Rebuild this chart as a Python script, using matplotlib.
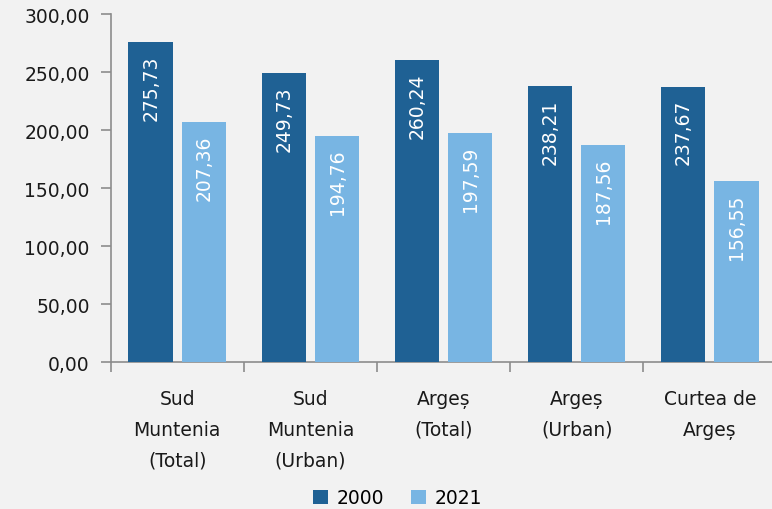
import matplotlib
matplotlib.use("Agg")
import matplotlib.pyplot as plt
import numpy as np

categories = ["Sud\nMuntenia\n(Total)", "Sud\nMuntenia\n(Urban)", "Argeș\n(Total)", "Argeș\n(Urban)", "Curtea de\nArgeș"]
series_names = ["2000", "2021"]
values_2000 = [275.73, 249.73, 260.24, 238.21, 237.67]
values_2021 = [207.36, 194.76, 197.59, 187.56, 156.55]
yticks = [0, 50, 100, 150, 200, 250, 300]

c_dark = "#1F6194"
c_light = "#78B5E3"
bg = "#F2F2F2"
axis_col = "#8C8C8C"

plt.rcParams['font.family'] = ['DejaVu Sans']

fig = plt.figure(figsize=(7.72, 5.10), dpi=100, facecolor=bg)
ax = fig.add_axes([0.1434, 0.2876, 0.8623, 0.6824], facecolor=bg)

x = np.arange(len(categories))
w = 0.333
b1 = ax.bar(x - 0.2, values_2000, w, color=c_dark, label=series_names[0], zorder=3)
b2 = ax.bar(x + 0.2, values_2021, w, color=c_light, label=series_names[1], zorder=3)

def fmt(v):
    return f"{v:.2f}".replace(".", ",")

for bars, vals in ((b1, values_2000), (b2, values_2021)):
    for r, v in zip(bars, vals):
        ax.annotate(fmt(v), (r.get_x() + r.get_width() / 2, v), xytext=(0, -9),
                    textcoords="offset points", rotation=90, ha="center", va="top",
                    color="white", fontsize=13.5, zorder=4)

ax.set_xlim(-0.5, len(categories) - 0.5)
ax.set_ylim(0, 300)
ax.set_yticks(yticks)
ax.set_yticklabels([fmt(t) for t in yticks], fontsize=13.5, color="#1a1a1a")

ax.set_xticks(x)
ax.set_xticklabels(categories, fontsize=13.5, color="#1a1a1a", linespacing=1.8)
ax.tick_params(axis="x", which="major", length=0, pad=19)
ax.set_xticks(np.arange(len(categories) + 1) - 0.5, minor=True)
ax.tick_params(axis="x", which="minor", length=7, color=axis_col, width=1.2)
ax.tick_params(axis="y", length=7, color=axis_col, width=1.2, pad=8)

for s in ("top", "right"):
    ax.spines[s].set_visible(False)
for s in ("left", "bottom"):
    ax.spines[s].set_color(axis_col)
    ax.spines[s].set_linewidth(1.2)

fig.legend(handles=[b1, b2], labels=series_names, loc="lower center",
           bbox_to_anchor=(0.515, -0.03), ncol=2, frameon=False, fontsize=13.5,
           handlelength=0.8, handleheight=0.8, handletextpad=0.5, columnspacing=1.4)

fig.savefig("out.png", dpi=100, facecolor=bg)
